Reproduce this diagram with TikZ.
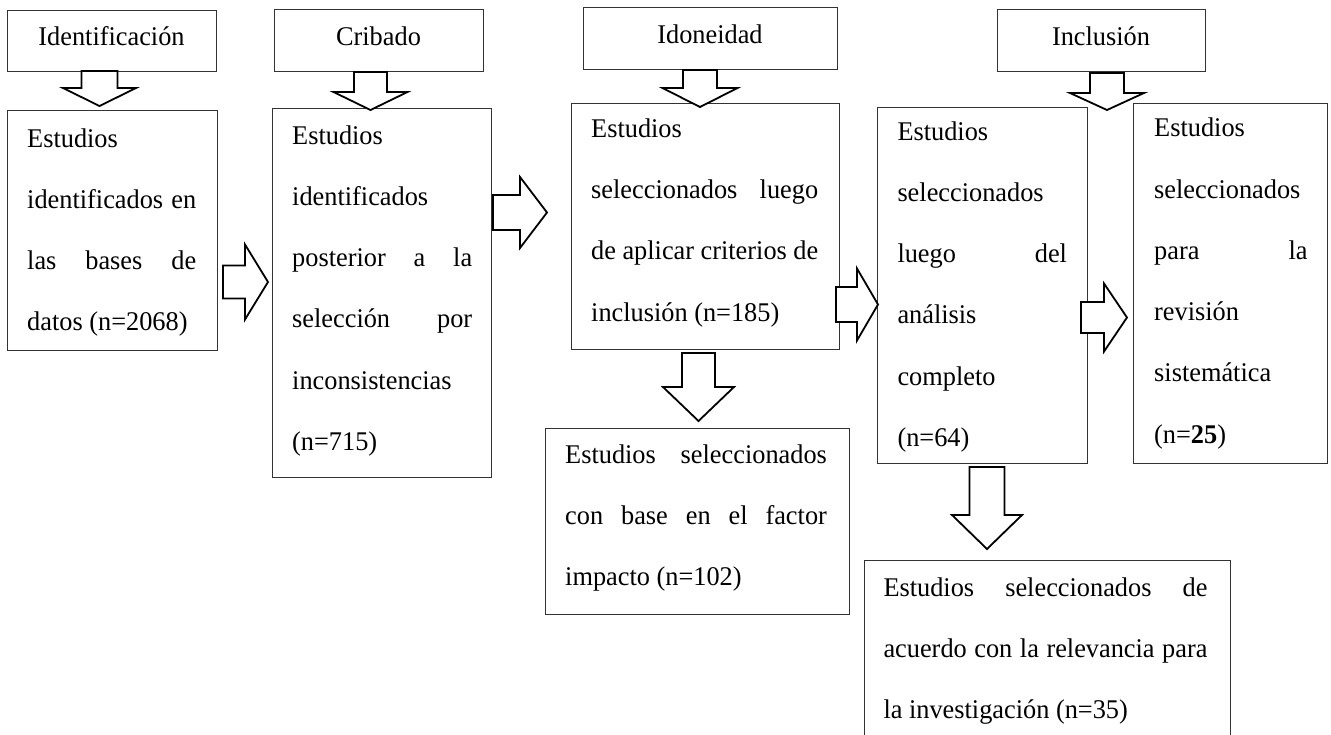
\documentclass[tikz,border=0pt]{standalone}
\usepackage{fontspec}
\setmainfont[FakeStretch=0.975]{Liberation Serif}
\newcommand{\jline}[1]{\makebox[\linewidth][s]{#1}}
% down block arrow: cx, shaft half width, head half width, top y, head base y, tip y
\newcommand{\dnblock}[6]{\draw[barrow] ({#1-#2},#4) -- ({#1-#2},#5) -- ({#1-#3},#5) -- (#1,#6) -- ({#1+#3},#5) -- ({#1+#2},#5) -- ({#1+#2},#4) -- cycle;}
% right block arrow: cy, shaft half height, head half height, left x, head base x, tip x
\newcommand{\rtblock}[6]{\draw[barrow] (#4,{#1-#2}) -- (#5,{#1-#2}) -- (#5,{#1-#3}) -- (#6,#1) -- (#5,{#1+#3}) -- (#5,{#1+#2}) -- (#4,{#1+#2}) -- cycle;}
\begin{document}
\begin{tikzpicture}[x=1pt,y=-1pt,
  font=\fontsize{27}{61.3}\selectfont,
  box/.style={draw=black!80, line width=1pt, anchor=north west, inner sep=0pt},
  titlebox/.style={draw=black!80, line width=1pt, anchor=center, inner sep=0pt, text height=16pt, text depth=6pt},
  txt/.style={anchor=base west, inner sep=0pt},
  barrow/.style={draw=black, fill=white, line width=1.8pt, line join=miter}]
\useasboundingbox (0,0) rectangle (1331,734);
\clip (0,0) rectangle (1331,734);
% stage titles
\node[titlebox, minimum width=209pt, minimum height=61pt] (s1) at (111.5,40.5) {Identificación};
\node[titlebox, minimum width=209pt, minimum height=62pt] (s2) at (378.5,40) {Cribado};
\node[titlebox, minimum width=254pt, minimum height=62pt] (s3) at (710,38) {Idoneidad};
\node[titlebox, minimum width=208pt, minimum height=62pt] (s4) at (1101,40) {Inclusión};
% boxes
\node[box, minimum width=210pt, minimum height=240pt] (b1) at (7,110) {};
\node[box, minimum width=219pt, minimum height=369pt] (b2) at (272,108) {};
\node[box, minimum width=268pt, minimum height=246pt] (b3) at (571,103) {};
\node[box, minimum width=210pt, minimum height=356pt] (b4) at (877,107) {};
\node[box, minimum width=194pt, minimum height=360pt] (b5) at (1133,103) {};
\node[box, minimum width=304pt, minimum height=186pt] (b6) at (545,428) {};
\node[box, minimum width=366pt, minimum height=200pt] (b7) at (864,560) {};
% texts
\node[txt] (t1) at (27,147) {\parbox[t]{169pt}{Estudios\\ \jline{identificados en}\\ \jline{las bases de}\\ datos (n=2068)}};
\node[txt] (t2) at (292,144) {\parbox[t]{180pt}{Estudios\\ identificados\\ \jline{posterior a la}\\ \jline{selección por}\\ inconsistencias\\ (n=715)}};
\node[txt] (t3) at (591,137.3) {\parbox[t]{227pt}{Estudios\\ \jline{seleccionados luego}\\ \jline{de aplicar criterios de}\\ inclusión (n=185)}};
\node[txt] (t4) at (897.3,140) {\parbox[t]{169.5pt}{Estudios\\ seleccionados\\ \jline{luego del}\\ análisis\\ completo\\ (n=64)}};
\node[txt] (t5) at (1154,136.7) {\parbox[t]{153.3pt}{Estudios\\ seleccionados\\ \jline{para la}\\ revisión\\ sistemática\\ (n=\textbf{25})}};
\node[txt] (t6) at (565,463.3) {\parbox[t]{261.7pt}{\jline{Estudios seleccionados}\\ \jline{con base en el factor}\\ impacto (n=102)}};
\node[txt] (t7) at (883.3,596) {\parbox[t]{324pt}{\jline{Estudios seleccionados de}\\ \jline{acuerdo con la relevancia para}\\ la investigación (n=35)}};
% down block arrows
\dnblock{99.5}{18}{36.5}{71}{88}{106}
\dnblock{370.5}{16.5}{37}{72}{92}{110}
\dnblock{700}{17}{37.5}{70}{88}{107}
\dnblock{1107}{17}{37}{73}{93}{110}
\dnblock{698.5}{16.5}{35.5}{353}{387}{421}
\dnblock{987}{17.5}{35}{467}{515}{549}
% right block arrows
\rtblock{282}{16.5}{37.5}{223}{245}{268}
\rtblock{212.5}{17.5}{35.5}{493}{520}{547}
\rtblock{304.5}{17.5}{36}{836}{857}{878}
\rtblock{317.5}{15.5}{34}{1081}{1104}{1127}
\end{tikzpicture}
\end{document}
